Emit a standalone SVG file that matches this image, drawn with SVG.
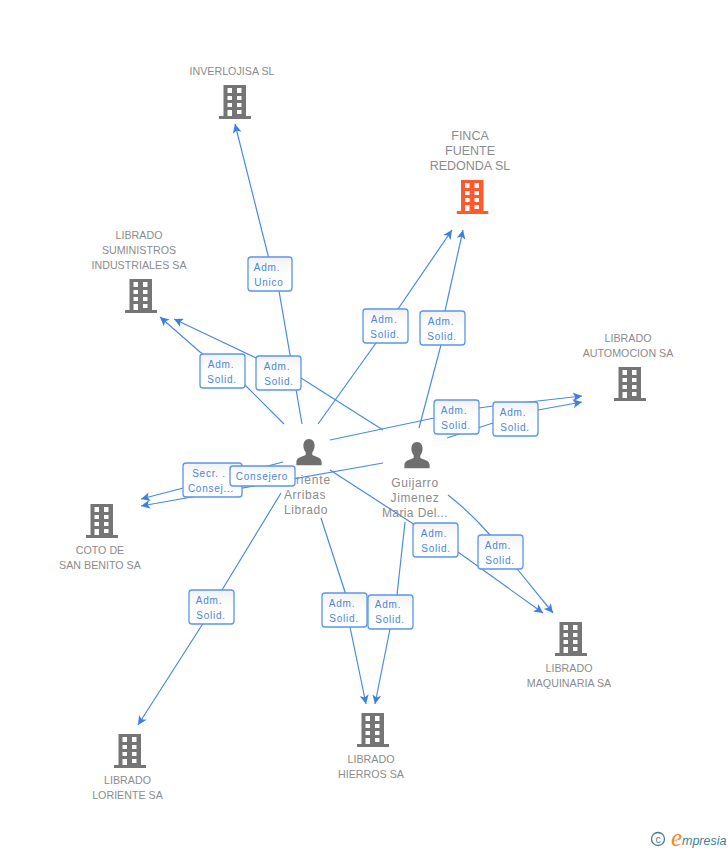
<svg xmlns="http://www.w3.org/2000/svg" width="728" height="850" viewBox="0 0 728 850">
<style>
text{font-family:"Liberation Sans",Arial,sans-serif}
.n{font-size:10.7px;fill:#8c8c8c;text-anchor:middle}
.p{font-size:12px;fill:#8c8c8c;text-anchor:middle;letter-spacing:.6px}
.f{font-size:12.5px;fill:#8c8c8c;text-anchor:middle}
.l{font-size:10px;fill:#4a86dc;text-anchor:middle;letter-spacing:.75px}
.b{fill:url(#g);stroke:#5b96e6;stroke-width:1.3}
.c path{fill:none;stroke:#4a8ae2;stroke-width:1.2;marker-end:url(#a)}
</style>
<defs>
<linearGradient id="g" x1="0" y1="0" x2="0" y2="1"><stop offset="0" stop-color="#f2f2f2"/><stop offset=".5" stop-color="#fff"/></linearGradient>
<marker id="a" viewBox="0 0 10 10" refX="10" refY="5" markerWidth="10" markerHeight="9" markerUnits="userSpaceOnUse" orient="auto"><path d="M0 0L10 5L0 10L2.500 5Z" fill="#3f7fdc"/></marker>
<symbol id="bld" viewBox="0 0 32 34"><path fill-rule="evenodd" d="M4.500 0H27V31H32V34H0V31H4.500ZM8.500 3V8H13V3ZM18 3V8H22.500V3ZM8.500 11V15H13V11ZM18 11V15H22.500V11ZM8.500 18V22H13V18ZM18 18V22H22.500V18ZM8.500 25V31H13V25ZM18 25V29H22.500V25Z"/></symbol>
<symbol id="per" viewBox="0 0 28 30"><path d="M14 0C18 0 20 3.500 20 7C20 10 19 12.500 17.500 14.500V17C20 19 27 19.500 27.500 24V28H.5V24C1 19.500 8 19 10.500 17V14.500C9 12.500 8 10 8 7C8 3.500 10 0 14 0Z"/></symbol>
</defs>
<rect width="728" height="850" fill="#fff"/>
<g class="c" id="connectors">
<path d="M302 424L279 291L270 274L268 255L235 124"/>
<path d="M318 424L376 343L387 326L398 309L452 230"/>
<path d="M419 428L441 345L443 328L445 311L463 230"/>
<path d="M284 424L245 385L222 368L200 352L160 317"/>
<path d="M383 430L301 378L278 368L256 358L174 319"/>
<path d="M330 440L434 418L479 408L493 406L538 401L582 396"/>
<path d="M447 438L493 423L538 410L582 402"/>
<path d="M283 462L141 499"/>
<path d="M383 463L141 506"/>
<path d="M281 493L222 590L212 607L202 625L138 725"/>
<path d="M321 518L345 592L347 610L350 627L366 704"/>
<path d="M405 522L397 595L393 612L390 629L375 704"/>
<path d="M330 470L415 525L436 540L458 552L543 613"/>
<path d="M448 495Q470 512 490 535L518 570L553 613"/>
</g>
<g id="inverlojisa" fill="#757575"><text class="n" x="232" y="75">INVERLOJISA SL</text><use href="#bld" x="219" y="85" width="32" height="34"/></g>
<g id="finca" fill="#ff5a2e"><text class="f" x="470" y="140">FINCA</text><text class="f" x="470" y="155">FUENTE</text><text class="f" x="470" y="170">REDONDA SL</text><use href="#bld" x="456.500" y="180" width="32" height="34"/></g>
<g id="suministros" fill="#757575"><text class="n" x="139" y="239">LIBRADO</text><text class="n" x="139" y="254">SUMINISTROS</text><text class="n" x="139" y="269">INDUSTRIALES SA</text><use href="#bld" x="125" y="279" width="32" height="34"/></g>
<g id="automocion" fill="#757575"><text class="n" x="628" y="342">LIBRADO</text><text class="n" x="628" y="357">AUTOMOCION SA</text><use href="#bld" x="614" y="367" width="32" height="34"/></g>
<g id="coto" fill="#757575"><use href="#bld" x="86" y="504" width="32" height="34"/><text class="n" x="100" y="554">COTO DE</text><text class="n" x="100" y="569">SAN BENITO SA</text></g>
<g id="maquinaria" fill="#757575"><use href="#bld" x="555" y="622" width="32" height="34"/><text class="n" x="569" y="672">LIBRADO</text><text class="n" x="569" y="687">MAQUINARIA SA</text></g>
<g id="hierros" fill="#757575"><use href="#bld" x="357" y="713" width="32" height="34"/><text class="n" x="371" y="763">LIBRADO</text><text class="n" x="371" y="778">HIERROS SA</text></g>
<g id="loriente" fill="#757575"><use href="#bld" x="114" y="734" width="32" height="34"/><text class="n" x="127.500" y="784">LIBRADO</text><text class="n" x="127.500" y="799">LORIENTE SA</text></g>
<g id="p-loriente" fill="#6f6f6f"><use href="#per" x="295" y="439" width="28" height="28"/><text class="p" x="306" y="484" style="letter-spacing:.8px">Loriente</text><text class="p" x="305" y="499">Arribas</text><text class="p" x="306" y="514">Librado</text></g>
<g id="p-guijarro" fill="#6f6f6f"><use href="#per" x="403" y="442" width="28" height="28"/><text class="p" x="415" y="487">Guijarro</text><text class="p" x="415" y="502">Jimenez</text><text class="p" x="415" y="517" style="letter-spacing:.4px">Maria Del...</text></g>
<g id="labels">
<g><rect class="b" x="248" y="257" width="44" height="34" rx="3"/><text class="l" x="267" y="271">Adm.</text><text class="l" x="269" y="286">Unico</text></g>
<g><rect class="b" x="363" y="309" width="45" height="34" rx="3"/><text class="l" x="384" y="323">Adm.</text><text class="l" x="385" y="338">Solid.</text></g>
<g><rect class="b" x="420" y="311" width="45" height="34" rx="3"/><text class="l" x="441" y="325">Adm.</text><text class="l" x="442" y="340">Solid.</text></g>
<g><rect class="b" x="200" y="354" width="45" height="34" rx="3"/><text class="l" x="221" y="368">Adm.</text><text class="l" x="222" y="383">Solid.</text></g>
<g><rect class="b" x="256" y="356" width="45" height="34" rx="3"/><text class="l" x="277" y="370">Adm.</text><text class="l" x="279" y="385">Solid.</text></g>
<g><rect class="b" x="434" y="400" width="45" height="34" rx="3"/><text class="l" x="454" y="414">Adm.</text><text class="l" x="456" y="429">Solid.</text></g>
<g><rect class="b" x="493" y="402" width="45" height="34" rx="3"/><text class="l" x="513" y="416">Adm.</text><text class="l" x="515" y="431">Solid.</text></g>
<g><rect class="b" x="183" y="463" width="59" height="34" rx="3"/><text class="l" x="209" y="477">Secr. .</text><text class="l" x="211" y="492">Consej...</text></g>
<g><rect class="b" x="230" y="466" width="65" height="20" rx="3"/><text class="l" x="262" y="480">Consejero</text></g>
<g><rect class="b" x="413" y="523" width="45" height="34" rx="3"/><text class="l" x="434" y="537">Adm.</text><text class="l" x="436" y="552">Solid.</text></g>
<g><rect class="b" x="478" y="535" width="45" height="34" rx="3"/><text class="l" x="498" y="549">Adm.</text><text class="l" x="500" y="564">Solid.</text></g>
<g><rect class="b" x="189" y="590" width="45" height="34" rx="3"/><text class="l" x="209" y="604">Adm.</text><text class="l" x="211" y="619">Solid.</text></g>
<g><rect class="b" x="322" y="593" width="45" height="34" rx="3"/><text class="l" x="342" y="607">Adm.</text><text class="l" x="344" y="622">Solid.</text></g>
<g><rect class="b" x="368" y="595" width="45" height="34" rx="3"/><text class="l" x="388" y="608">Adm.</text><text class="l" x="390" y="623">Solid.</text></g>
</g>
<g id="credit"><circle cx="658" cy="839" r="6.500" fill="none" stroke="#3d7f96" stroke-width="1.300"/><text x="658" y="842.500" font-size="10.500" fill="#3d7f96" text-anchor="middle">c</text><text x="671" y="846" font-size="25" font-style="italic" fill="#f58a1f" style="font-family:'Liberation Serif',serif">e</text><text x="682" y="845" font-size="12.500" font-style="italic" fill="#3d7f96">mpresia</text></g>
</svg>
